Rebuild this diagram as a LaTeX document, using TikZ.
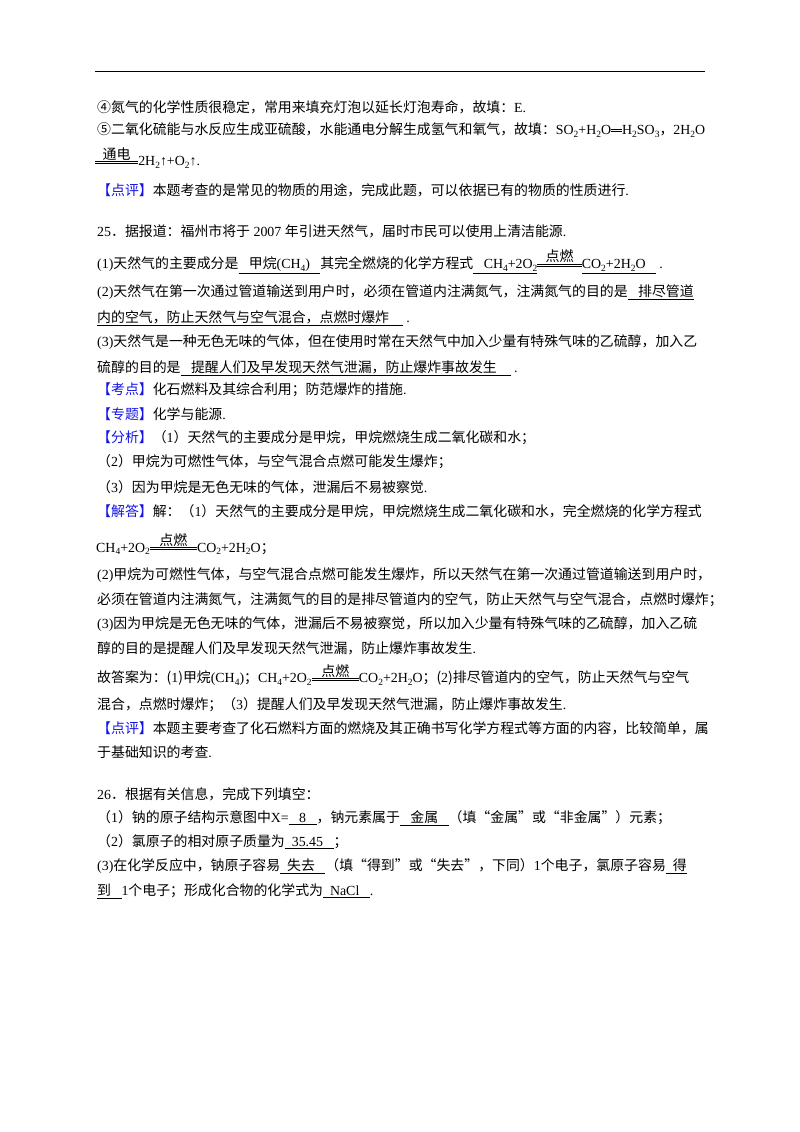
\documentclass[tikz,border=0pt]{standalone}
\usepackage{fontspec}
\setmainfont{Noto Sans CJK SC}
\newfontfamily\tm{Liberation Serif}
\definecolor{kb}{RGB}{20,20,230}
\newcommand\T[1]{{\tm #1}}
\newcommand\sbs[1]{\raisebox{-0.35ex}{\fontsize{9.5}{9.5}\selectfont\tm #1}}
\newcommand\rxn[2][3.4em]{\raisebox{0.2em}{\vbox{\hbox to #1{\hss\fontsize{14}{14}\selectfont #2\hss}\kern0.5pt\hrule height 0.6pt\kern1.3pt\hrule height 0.6pt}}}
\newcommand\dbleq{\raisebox{0.2em}{\vbox{\hrule width 0.8em height 0.7pt\kern1pt\hrule width 0.8em height 0.7pt}}}
\newcommand\ul[1]{\underline{#1}}
\newcommand\kt[1]{{\color{kb}【#1】}}
\begin{document}
\begin{tikzpicture}[x=1pt,y=-1pt,
  ln/.style={anchor=west,inner sep=0pt,font=\fontsize{13.9}{16}\selectfont}]
\useasboundingbox[fill=white] (0,0) rectangle (800,1132);
\draw[line width=1pt] (95,72) -- (705,72);
\node[ln] (l1) at (97,107) {④氮气的化学性质很稳定，常用来填充灯泡以延长灯泡寿命，故填：\T{E.}};
\node[ln] (l2) at (97,130) {⑤二氧化硫能与水反应生成亚硫酸，水能通电分解生成氢气和氧气，故填：\T{SO}\sbs{2}\T{+H}\sbs{2}\T{O}\dbleq\T{H}\sbs{2}\T{SO}\sbs{3}，\T{2H}\sbs{2}\T{O}};
\node[ln] (l3) at (95,158) {\rxn[3.1em]{通电}\T{2H}\sbs{2}\T{↑+O}\sbs{2}\T{↑.}};
\node[ln] (l4) at (97,190) {\kt{点评}本题考查的是常见的物质的用途，完成此题，可以依据已有的物质的性质进行\T{.}};
\node[ln] (l5) at (97,231) {\T{25}．据报道：福州市将于\T{ 2007 }年引进天然气，届时市民可以使用上清洁能源\T{.}};
\node[ln] (l6) at (97,262) {\T{(1)}天然气的主要成分是\ul{\T{\ \ \ }甲烷\T{(CH}\sbs{4}\T{)\ \ \ }}其完全燃烧的化学方程式\ul{\T{\ \ \ CH}\sbs{4}\T{+2O}\sbs{2}}\rxn[3.2em]{点燃}\ul{\T{CO}\sbs{2}\T{+2H}\sbs{2}\T{O\ \ \ }}\T{\ .}};
\node[ln] (l7) at (97,292) {\T{(2)}天然气在第一次通过管道输送到用户时，必须在管道内注满氮气，注满氮气的目的是\ul{\T{\ \ \ }排尽管道}};
\node[ln] (l8) at (97,318) {\ul{内的空气，防止天然气与空气混合，点燃时爆炸\T{\ \ \ \ }}\T{\ .}};
\node[ln] (l9) at (97,342) {\T{(3)}天然气是一种无色无味的气体，但在使用时常在天然气中加入少量有特殊气味的乙硫醇，加入乙};
\node[ln] (l10) at (97,368) {硫醇的目的是\ul{\T{\ \ \ }提醒人们及早发现天然气泄漏，防止爆炸事故发生\T{\ \ \ \ }}\T{\ .}};
\node[ln] (l11) at (97,390) {\kt{考点}化石燃料及其综合利用；防范爆炸的措施\T{.}};
\node[ln] (l12) at (97,414) {\kt{专题}化学与能源\T{.}};
\node[ln] (l13) at (97,438) {\kt{分析}（\T{1}）天然气的主要成分是甲烷，甲烷燃烧生成二氧化碳和水；};
\node[ln] (l14) at (97,462) {（\T{2}）甲烷为可燃性气体，与空气混合点燃可能发生爆炸；};
\node[ln] (l15) at (97,487) {（\T{3}）因为甲烷是无色无味的气体，泄漏后不易被察觉\T{.}};
\node[ln] (l16) at (97,511) {\kt{解答}解：（\T{1}）天然气的主要成分是甲烷，甲烷燃烧生成二氧化碳和水，完全燃烧的化学方程式};
\node[ln] (l17) at (96,544) {\T{CH}\sbs{4}\T{+2O}\sbs{2}\rxn[3.4em]{点燃}\T{CO}\sbs{2}\T{+2H}\sbs{2}\T{O}；};
\node[ln] (l18) at (97,575) {\T{(2)}甲烷为可燃性气体，与空气混合点燃可能发生爆炸，所以天然气在第一次通过管道输送到用户时，};
\node[ln] (l19) at (97,600) {必须在管道内注满氮气，注满氮气的目的是排尽管道内的空气，防止天然气与空气混合，点燃时爆炸；};
\node[ln] (l20) at (97,624) {\T{(3)}因为甲烷是无色无味的气体，泄漏后不易被察觉，所以加入少量有特殊气味的乙硫醇，加入乙硫};
\node[ln] (l21) at (97,648) {醇的目的是提醒人们及早发现天然气泄漏，防止爆炸事故发生\T{.}};
\node[ln] (l22) at (97,675) {故答案为：(\T{1})甲烷\T{(CH}\sbs{4}\T{)}；\T{CH}\sbs{4}\T{+2O}\sbs{2}\rxn[3.4em]{点燃}\T{CO}\sbs{2}\T{+2H}\sbs{2}\T{O}；(\T{2})排尽管道内的空气，防止天然气与空气};
\node[ln] (l23) at (97,705) {混合，点燃时爆炸；（\T{3}）提醒人们及早发现天然气泄漏，防止爆炸事故发生\T{.}};
\node[ln] (l24) at (97,728) {\kt{点评}本题主要考查了化石燃料方面的燃烧及其正确书写化学方程式等方面的内容，比较简单，属};
\node[ln] (l25) at (97,752) {于基础知识的考查\T{.}};
\node[ln] (l26) at (97,794) {\T{26}．根据有关信息，完成下列填空：};
\node[ln] (l27) at (97,818) {（\T{1}）钠的原子结构示意图中\T{X=}\ul{\T{\ \ \ 8\ \ \ }}，钠元素属于\ul{\T{\ \ \ }金属\T{\ \ \ }}（填“金属”或“非金属”）元素；};
\node[ln] (l28) at (97,842) {（\T{2}）氯原子的相对原子质量为\ul{\T{\ \ 35.45\ \ \ }}；};
\node[ln] (l29) at (97,866) {\T{(3)}在化学反应中，钠原子容易\ul{\T{\ \ }失去\T{\ \ \ }}（填“得到”或“失去”，下同）\T{1}个电子，氯原子容易\ul{\T{\ \ }得}};
\node[ln] (l30) at (97,891) {\ul{到\T{\ \ \ }}\T{1}个电子；形成化合物的化学式为\ul{\T{\ \ NaCl\ \ \ }}\T{.}};
\end{tikzpicture}
\end{document}
